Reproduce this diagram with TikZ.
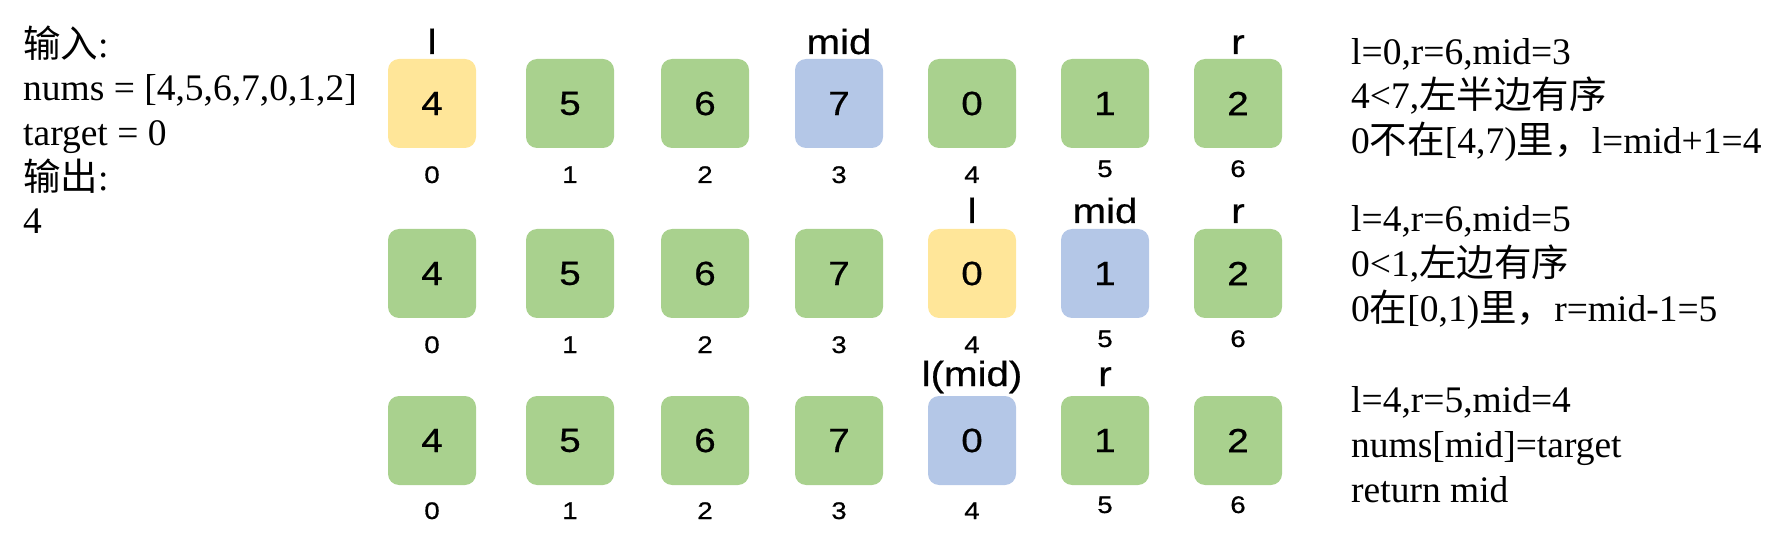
\documentclass[tikz,border=0pt]{standalone}
\usepackage{fontspec}
\setmainfont{Liberation Serif}
\newfontfamily\cellfont[FakeStretch=1.15,FakeBold=0.6]{Liberation Sans}
\newfontfamily\cjk{Noto Sans CJK SC}
\definecolor{grn}{RGB}{169,209,142}
\definecolor{ylw}{RGB}{255,230,153}
\definecolor{blu}{RGB}{180,199,231}

\begin{document}
\begin{tikzpicture}[x=1pt,y=-1pt]
\tikzstyle{cell}=[rectangle,rounded corners=11pt,minimum width=88pt,minimum height=89pt,inner sep=0pt,font=\cellfont\fontsize{33.5}{34}\selectfont]
\tikzstyle{idx}=[anchor=base,inner sep=0pt,font=\cellfont\fontsize{24}{24}\selectfont]
\tikzstyle{ptr}=[anchor=base,inner sep=0pt,font=\cellfont\fontsize{35}{35}\selectfont]
\tikzstyle{line}=[anchor=base west,inner sep=0pt,font=\fontsize{37.5}{44}\selectfont]
\useasboundingbox (0,0) rectangle (1786,545);
% input / output
\node [line] (in0) at(23,58) {{\cjk 输入}:};
\node [line] (in1) at(23,101) {nums = [4,5,6,7,0,1,2]};
\node [line] (in2) at(23,146) {target = 0};
\node [line] (in3) at(23,191) {{\cjk 输出}:};
\node [line] (in4) at(23,234) {4};
% first step
\node [cell] (0) at(432,103.5) [fill=ylw] {4};
\node [cell] (1) at(570,103.5) [fill=grn] {5};
\node [cell] (2) at(705,103.5) [fill=grn] {6};
\node [cell] (3) at(839,103.5) [fill=blu] {7};
\node [cell] (4) at(972,103.5) [fill=grn] {0};
\node [cell] (5) at(1105,103.5) [fill=grn] {1};
\node [cell] (6) at(1238,103.5) [fill=grn] {2};
\node [idx] (i0) at(432,183) {0};
\node [idx] (i1) at(570,183) {1};
\node [idx] (i2) at(705,183) {2};
\node [idx] (i3) at(839,183) {3};
\node [idx] (i4) at(972,183) {4};
\node [idx] (i5) at(1105,177) {5};
\node [idx] (i6) at(1238,177) {6};
\node [ptr] (p0) at(432,54) {l};
\node [ptr] (p1) at(839,54) {mid};
\node [ptr] (p2) at(1238,54) {r};
\node [line] (t0) at(1351,65) {l=0,r=6,mid=3};
\node [line] (t1) at(1351,109) {4<7,{\cjk 左半边有序}};
\node [line] (t2) at(1351,154) {0{\cjk 不在}[4,7){\cjk 里，}l=mid+1=4};
% second step
\node [cell] (7) at(432,273.5) [fill=grn] {4};
\node [cell] (8) at(570,273.5) [fill=grn] {5};
\node [cell] (9) at(705,273.5) [fill=grn] {6};
\node [cell] (10) at(839,273.5) [fill=grn] {7};
\node [cell] (11) at(972,273.5) [fill=ylw] {0};
\node [cell] (12) at(1105,273.5) [fill=blu] {1};
\node [cell] (13) at(1238,273.5) [fill=grn] {2};
\node [idx] (i7) at(432,353) {0};
\node [idx] (i8) at(570,353) {1};
\node [idx] (i9) at(705,353) {2};
\node [idx] (i10) at(839,353) {3};
\node [idx] (i11) at(972,353) {4};
\node [idx] (i12) at(1105,347) {5};
\node [idx] (i13) at(1238,347) {6};
\node [ptr] (p3) at(972,223) {l};
\node [ptr] (p4) at(1105,223) {mid};
\node [ptr] (p5) at(1238,223) {r};
\node [line] (t3) at(1351,232) {l=4,r=6,mid=5};
\node [line] (t4) at(1351,277) {0<1,{\cjk 左边有序}};
\node [line] (t5) at(1351,322) {0{\cjk 在}[0,1){\cjk 里，}r=mid-1=5};
% third step
\node [cell] (14) at(432,440.5) [fill=grn] {4};
\node [cell] (15) at(570,440.5) [fill=grn] {5};
\node [cell] (16) at(705,440.5) [fill=grn] {6};
\node [cell] (17) at(839,440.5) [fill=grn] {7};
\node [cell] (18) at(972,440.5) [fill=blu] {0};
\node [cell] (19) at(1105,440.5) [fill=grn] {1};
\node [cell] (20) at(1238,440.5) [fill=grn] {2};
\node [idx] (i14) at(432,519) {0};
\node [idx] (i15) at(570,519) {1};
\node [idx] (i16) at(705,519) {2};
\node [idx] (i17) at(839,519) {3};
\node [idx] (i18) at(972,519) {4};
\node [idx] (i19) at(1105,513) {5};
\node [idx] (i20) at(1238,513) {6};
\node [ptr] (p6) at(972,386) {l(mid)};
\node [ptr] (p7) at(1105,386) {r};
\node [line] (t6) at(1351,412) {l=4,r=5,mid=4};
\node [line] (t7) at(1351,457) {nums[mid]=target};
\node [line] (t8) at(1351,502) {return mid};
\end{tikzpicture}
\end{document}
